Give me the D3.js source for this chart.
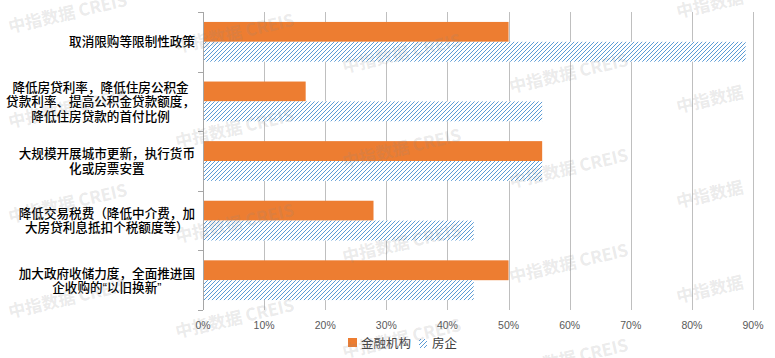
<!DOCTYPE html>
<html>
<head>
<meta charset="utf-8">
<script src="https://cdn.jsdelivr.net/npm/d3@7/dist/d3.min.js"></script>
<style>
  html, body { margin: 0; padding: 0; background: #fff; }
  svg { display: block; }
</style>
</head>
<body>
<div id="chart"></div>
<script>
// ---- data ----
const categories = [
  "取消限购等限制性政策",
  "降低房贷利率，降低住房公积金贷款利率、提高公积金贷款额度，降低住房贷款的首付比例",
  "大规模开展城市更新，执行货币化或房票安置",
  "降低交易税费（降低中介费，加大房贷利息抵扣个税额度等）",
  "加大政府收储力度，全面推进国企收购的“以旧换新”"
];
const categoryLines = [
  ["取消限购等限制性政策"],
  ["降低房贷利率，降低住房公积金", "贷款利率、提高公积金贷款额度，", "降低住房贷款的首付比例"],
  ["大规模开展城市更新，执行货币", "化或房票安置"],
  ["降低交易税费（降低中介费，加", "大房贷利息抵扣个税额度等）"],
  ["加大政府收储力度，全面推进国", "企收购的“以旧换新”"]
];
const seriesNames = ["金融机构", "房企"];
const financeValues = [50.0, 16.8, 55.5, 27.9, 50.0];
const developerValues = [88.8, 55.5, 55.5, 44.3, 44.3];
const xTickValues = [0, 10, 20, 30, 40, 50, 60, 70, 80, 90];

// ---- setup ----
const W = 775, H = 358;
const plot = { left: 203, right: 753, top: 12, bottom: 310 };
const ORANGE = "#ED7D31", BLUE = "#5B9BD5";
const CJK = "'Noto Sans CJK SC', 'Noto Sans', sans-serif";
const LAT = "'Liberation Sans', Arial, sans-serif";

const svg = d3.select("#chart").append("svg")
  .attr("width", W).attr("height", H);

const defs = svg.append("defs");
const pat = defs.append("pattern")
  .attr("id", "hatch").attr("patternUnits", "userSpaceOnUse")
  .attr("x", 0).attr("y", 0).attr("width", 4).attr("height", 4);
pat.append("rect").attr("width", 4).attr("height", 4).attr("fill", "#fff");
[[0,3],[1,2],[2,1],[3,0]].forEach(([px,py]) =>
  pat.append("rect").attr("x", px).attr("y", py).attr("width", 1).attr("height", 1).attr("fill", BLUE));

const x = d3.scaleLinear().domain([0, 90]).range([plot.left, plot.right]);
const y0 = d3.scaleBand().domain(d3.range(categories.length))
  .range([plot.top, plot.bottom]).paddingInner(0).paddingOuter(0);
const y1 = d3.scaleBand().domain(seriesNames)
  .range([0, y0.bandwidth()]).paddingInner(0).paddingOuter(0.5);

// gridlines
svg.append("g").selectAll("line").data(xTickValues.filter(v => v > 0)).join("line")
  .attr("x1", d => Math.round(x(d)) + 0.5).attr("x2", d => Math.round(x(d)) + 0.5)
  .attr("y1", plot.top).attr("y2", plot.bottom)
  .attr("stroke", "#BFBFBF").attr("stroke-width", 1);

// bars
const rows = categories.map((c, i) => ({ i, vals: [financeValues[i], developerValues[i]] }));
const g = svg.append("g");
rows.forEach(r => {
  seriesNames.forEach((s, k) => {
    g.append("rect")
      .attr("x", x(0))
      .attr("y", y0(r.i) + y1(s))
      .attr("width", x(r.vals[k]) - x(0))
      .attr("height", y1.bandwidth())
      .attr("fill", k === 0 ? ORANGE : "url(#hatch)");
  });
});

// left axis
const yAxis = svg.append("g");
yAxis.append("line")
  .attr("x1", plot.left + 0.5).attr("x2", plot.left + 0.5)
  .attr("y1", plot.top).attr("y2", plot.bottom)
  .attr("stroke", "#A6A6A6");
const boundaries = d3.range(categories.length + 1).map(i =>
  i < categories.length ? y0(i) : y0(categories.length - 1) + y0.bandwidth());
yAxis.selectAll("line.tick").data(boundaries).join("line").attr("class", "tick")
  .attr("x1", plot.left - 5).attr("x2", plot.left)
  .attr("y1", d => Math.round(d) + 0.5).attr("y2", d => Math.round(d) + 0.5)
  .attr("stroke", "#A6A6A6");

// category labels: block right-aligned at 195, lines centered within the block
const lineH = 14.5, labelRight = 195;
categoryLines.forEach((lines, i) => {
  const cy = y0(i) + y0.bandwidth() / 2;
  const t = svg.append("text")
    .attr("text-anchor", "middle")
    .attr("font-family", CJK).attr("font-weight", 500)
    .attr("font-size", "12.6px").attr("fill", "#000");
  const spans = lines.map((ln, j) => {
    const sp = t.append("tspan")
      .attr("y", cy + (j - (lines.length - 1) / 2) * lineH + 4.6);
    ln.split(/([“”])/).filter(s => s.length).forEach(seg => {
      const s = sp.append("tspan").text(seg);
      if (seg === "“" || seg === "”") s.attr("font-family", LAT);
    });
    return sp;
  });
  const maxW = d3.max(spans, sp => sp.node().getComputedTextLength());
  spans.forEach(sp => sp.attr("x", labelRight - maxW / 2));
});

// x tick labels
svg.append("g").selectAll("text").data(xTickValues).join("text")
  .attr("x", d => x(d)).attr("y", 328.5)
  .attr("text-anchor", "middle")
  .attr("font-family", LAT)
  .attr("font-size", "10.5px").attr("fill", "#595959")
  .text(d => d + "%");

// legend
const lg = svg.append("g");
lg.append("rect").attr("x", 348).attr("y", 338).attr("width", 9).attr("height", 9).attr("fill", ORANGE);
lg.append("text").attr("x", 361).attr("y", 347.5)
  .attr("font-family", CJK).attr("font-size", "12.5px").attr("fill", "#404040").text(seriesNames[0]);
lg.append("rect").attr("x", 419).attr("y", 339).attr("width", 8).attr("height", 9).attr("fill", "url(#hatch)");
lg.append("text").attr("x", 432).attr("y", 347.5)
  .attr("font-family", CJK).attr("font-size", "12.5px").attr("fill", "#404040").text(seriesNames[1]);

// watermark
const wm = svg.append("g").attr("pointer-events", "none");
for (let i = 0; i < 5; i++) {
  for (let j = -1; j < 4; j++) {
    const wx = 10 + 167 * i;
    const wy = 33 + 20 * i + 95 * j;
    if (wy < -10 || wy > 380) continue;
    wm.append("text")
      .attr("transform", `translate(${wx},${wy}) rotate(-13)`)
      .attr("font-family", CJK).attr("font-weight", "bold")
      .attr("font-size", "17px").attr("fill", "#888").attr("fill-opacity", 0.18)
      .text(i === 4 ? "中指数据" : "中指数据 CREIS");
  }
}
</script>
</body>
</html>
